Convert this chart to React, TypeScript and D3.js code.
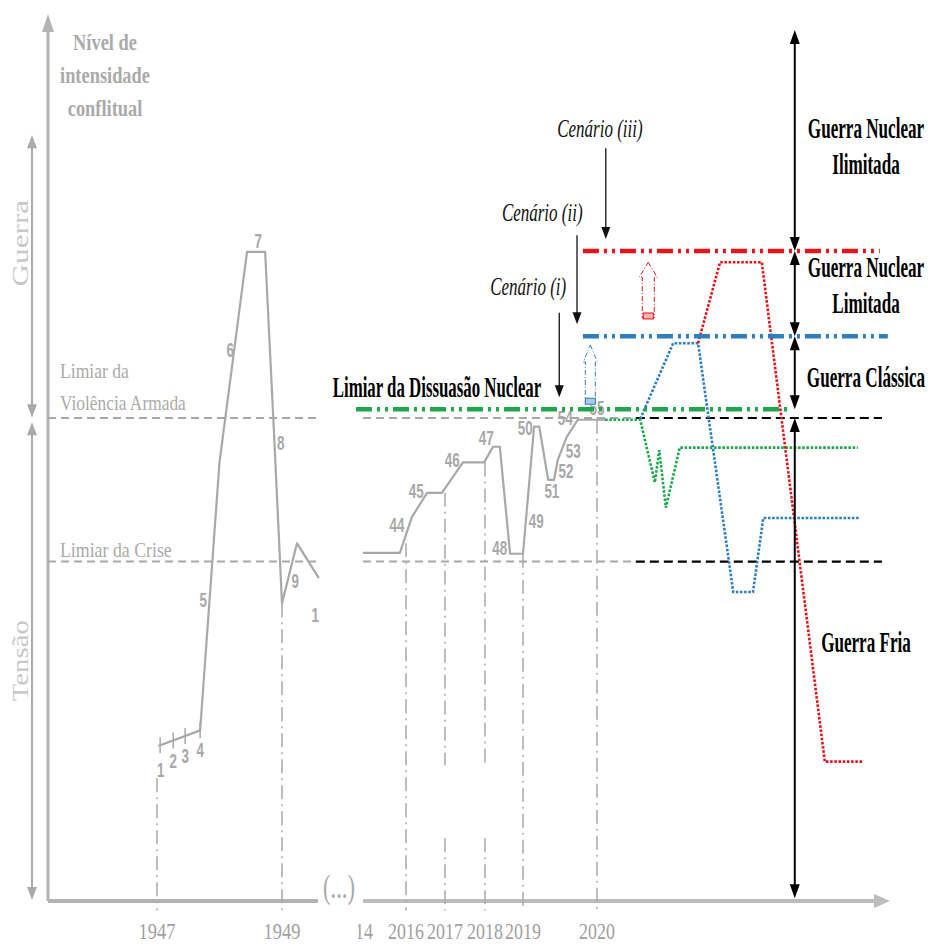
import React from 'react';
import * as d3 from 'd3';

const W = 928;
const H = 946;
const SERIF = '"Liberation Serif", "Times New Roman", serif';
const SANS = '"Liberation Sans", Arial, sans-serif';

// intensity: 0 = time axis, 100 = top of the intensity axis
const thresholdLevels = [38.9, 55.4]; // crise, violência armada
const deterrenceLevel = 56.4;

// 1947-1949 episode
const oldYears = [1947, 1949];
const oldGuideTop = [14.0, 34.1];
const oldT = [1947.02, 1947.69, 1948.0, 1948.44, 1948.73, 1948.87, 1949.0, 1949.24, 1949.59];
const oldV = [17.7, 19.5, 50.3, 74.5, 74.5, 54.0, 34.1, 41.0, 37.0];
const oldTickT = [1947.05, 1947.26, 1947.45, 1947.69];
const oldEventLabels = ['1', '2', '3', '4', '5', '6', '7', '8', '9', '1'];
const oldEventT = [1947.06, 1947.26, 1947.45, 1947.69, 1947.74, 1948.17, 1948.62, 1948.98, 1949.21, 1949.53];
const oldEventV = [14.1, 15.2, 15.7, 16.4, 33.7, 62.4, 74.9, 51.7, 35.9, 32.0];

// 2014-2020
const newYears = [2014, 2016, 2017, 2018, 2019, 2020];
const guideYears = [2016, 2017, 2018, 2019, 2020];
const guideTop = [41.0, 46.8, 50.3, 39.8, 55.2];
const guideBroken = [false, true, true, false, false];
const newT = [2014.31, 2015.76, 2016.15, 2016.54, 2016.92, 2017.45, 2017.98, 2018.21, 2018.39, 2018.66, 2019.0, 2019.15, 2019.22, 2019.34, 2019.42, 2019.47, 2019.59, 2019.74, 2020.14];
const newV = [39.9, 39.9, 44.0, 46.8, 46.8, 50.3, 50.3, 52.1, 52.1, 39.8, 39.8, 54.4, 54.4, 48.3, 48.3, 50.6, 53.2, 55.2, 55.2];
const newEventLabels = ['44', '45', '46', '47', '48', '49', '50', '51', '52', '53', '54', '55'];
const newEventT = [2015.65, 2016.26, 2017.18, 2018.03, 2018.39, 2019.18, 2019.03, 2019.39, 2019.58, 2019.68, 2019.57, 2020.0];
const newEventV = [42.3, 46.2, 49.8, 52.3, 39.7, 42.8, 53.4, 46.2, 48.5, 50.8, 54.6, 55.7];

// scenarios (i) green, (ii) blue, (iii) red
const scenarioLabels = ['Cenário (i)', 'Cenário (ii)', 'Cenário (iii)'];
const scenarioColors = ['#1ea84b', '#2f7ec1', '#e3141b'];
const scenarioLevels = [deterrenceLevel, 64.8, 74.6];
const scenarioStart = [2014.04, 2019.81, 2019.81];
const scenarioEnd = [2022.63, 2023.97, 2023.86];
const scenarioLabelT = [2019.07, 2019.26, 2020.04];
const scenarioLabelV = [69.5, 78.0, 87.7];
const scenarioArrowT = [2019.49, 2019.73, 2020.12];
const scenarioArrowTop = [67.5, 76.4, 86.4];
const pathT = [
  [2020.11, 2020.59, 2020.79, 2020.85, 2020.94, 2021.13, 2023.56],
  [2020.59, 2021.04, 2021.38, 2021.86, 2022.13, 2022.27, 2023.59],
  [2021.38, 2021.68, 2022.25, 2023.11, 2023.62],
];
const pathV = [
  [55.2, 55.2, 48.0, 51.7, 45.1, 52.0, 52.0],
  [55.3, 64.0, 64.0, 35.4, 35.4, 43.9, 43.9],
  [64.0, 73.3, 73.3, 15.9, 15.9],
];
// hollow "escalation" arrows
const hollowT = [2019.91, 2020.7];
const hollowBase = [57.1, 66.9];
const hollowTip = [63.8, 73.3];
const hollowColors = ['#2f7ec1', '#e3141b'];

// regimes on the right-hand ladder
const regimeLines = [['Guerra Nuclear', 'Ilimitada'], ['Guerra Nuclear', 'Limitada'], ['Guerra Clássica'], ['Guerra Fria']];
const regimeTop = [100, 74.6, 64.8, 55.4];
const regimeBottom = [74.6, 64.8, 56.4, 0.2];
const regimeLabelV = [87.6, 71.6, 59.0, 28.5];
const ladderT = 2022.7;

const GREY = '#a8a8a8';

function Txt({ x, y, children, size, k = 1, anchor = 'middle', weight = 'normal', italic = false, fill = '#000', family = SERIF, rotate = 0 }: any) {
  return (
    <text
      transform={`translate(${x},${y}) rotate(${rotate}) scale(${k},1)`}
      textAnchor={anchor}
      fontSize={size}
      fontWeight={weight}
      fontStyle={italic ? 'italic' : 'normal'}
      fill={fill}
      fontFamily={family}
    >
      {children}
    </text>
  );
}

function head(x: number, tipY: number, dir: number, len = 14, hw = 5) {
  return `M${x},${tipY}L${x - hw},${tipY + dir * len}L${x + hw},${tipY + dir * len}Z`;
}

export default function App() {
  const y = d3.scaleLinear().domain([0, 100]).range([900, 30]);
  const xOld = d3.scaleLinear().domain(oldYears).range([157, 282]);
  const xNew = d3.scaleLinear().domain([2014, 2016, 2017, 2018, 2019, 2020, 2024]).range([355, 406, 445, 485, 523, 597, 890]);

  const axisX = 48;
  const axisY = y(0) + 1;
  const breakL = 318;
  const breakR = 363;
  const axisEnd = 890;
  const yAxisX = 32;
  const yearBaseline = 939;

  const line = d3.line<[number, number]>().x(d => d[0]).y(d => d[1]);
  const oldPath = line(oldT.map((t, i) => [xOld(t), y(oldV[i])]));
  const newPath = line(newT.map((t, i) => [xNew(t), y(newV[i])]));

  const blackStart = 2020.53;
  const blackEnd = 2023.89;
  const lx = xNew(ladderT);

  return (
    <div style={{ position: 'absolute', left: 0, top: 0 }}>
      <svg width={W} height={H} style={{ display: 'block', background: '#fff' }}>
        <defs>
          <clipPath id="rightAxisClip">
            <rect x={breakR - 5} y={0} width={W} height={H} />
          </clipPath>
        </defs>

        {/* axes */}
        <line x1={axisX} y1={axisY} x2={axisX} y2={y(100) - 2} stroke="#b3b3b3" strokeWidth={3} />
        <path d={head(axisX, 14, 1, 18, 6)} fill="#b3b3b3" />
        <line x1={axisX} y1={axisY} x2={breakL} y2={axisY} stroke="#b3b3b3" strokeWidth={4} />
        <line x1={breakR} y1={axisY} x2={axisEnd - 12} y2={axisY} stroke="#bcbcbc" strokeWidth={4} />
        <path d={`M${axisEnd},${axisY}L${axisEnd - 16},${axisY - 7}L${axisEnd - 16},${axisY + 7}Z`} fill="#bcbcbc" />
        <Txt x={339} y={898} size={34} k={0.66} fill="#aaa">(...)</Txt>

        {/* Guerra / Tensão arrows */}
        <line x1={yAxisX} y1={y(87.9) + 10} x2={yAxisX} y2={y(55.5) - 10} stroke="#aaa" strokeWidth={2} />
        <path d={head(yAxisX, y(87.9), 1, 13, 5)} fill="#aaa" />
        <path d={head(yAxisX, y(55.5), -1, 13, 5)} fill="#aaa" />
        <line x1={yAxisX} y1={y(54.9) + 10} x2={yAxisX} y2={y(0) - 10} stroke="#aaa" strokeWidth={2} />
        <path d={head(yAxisX, y(54.9), 1, 13, 5)} fill="#aaa" />
        <path d={head(yAxisX, y(0), -1, 13, 5)} fill="#aaa" />
        <Txt x={28} y={y(75.5)} size={24} k={1.3} rotate={-90} fill="#c8c8c8">Guerra</Txt>
        <Txt x={28} y={y(27.5)} size={24} k={1.2} rotate={-90} fill="#c8c8c8">Tensão</Txt>

        {/* axis title */}
        <Txt x={105} y={50} size={23} k={0.8} weight="bold" fill="#aaa">Nível de</Txt>
        <Txt x={105} y={83} size={23} k={0.8} weight="bold" fill="#aaa">intensidade</Txt>
        <Txt x={105} y={116} size={23} k={0.8} weight="bold" fill="#aaa">conflitual</Txt>

        {/* year guides */}
        {oldYears.map((yr, i) => (
          <line key={'og' + yr} x1={xOld(yr)} x2={xOld(yr)} y1={y(oldGuideTop[i])} y2={y(-1.2)} stroke={GREY} strokeWidth={1.5} strokeDasharray="14,5,2,5" />
        ))}
        {guideYears.map((yr, i) =>
          guideBroken[i] ? (
            <g key={'ng' + yr}>
              <line x1={xNew(yr)} x2={xNew(yr)} y1={y(guideTop[i])} y2={y(15.5)} stroke={GREY} strokeWidth={1.5} strokeDasharray="14,5,2,5" />
              <line x1={xNew(yr)} x2={xNew(yr)} y1={y(7.1)} y2={y(-1.2)} stroke={GREY} strokeWidth={1.5} strokeDasharray="14,5,2,5" />
            </g>
          ) : (
            <line key={'ng' + yr} x1={xNew(yr)} x2={xNew(yr)} y1={y(guideTop[i])} y2={y(-1.2)} stroke={GREY} strokeWidth={1.5} strokeDasharray="14,5,2,5" />
          )
        )}

        {/* year labels */}
        {oldYears.map(yr => (
          <Txt key={'oy' + yr} x={xOld(yr)} y={yearBaseline} size={23} k={0.8} fill="#a0a0a0">{String(yr)}</Txt>
        ))}
        <g clipPath="url(#rightAxisClip)">
          {newYears.map(yr => (
            <Txt key={'ny' + yr} x={xNew(yr)} y={yearBaseline} size={23} k={0.78} fill="#a0a0a0">{String(yr)}</Txt>
          ))}
        </g>

        {/* thresholds */}
        {thresholdLevels.map(lv => (
          <g key={'th' + lv}>
            <line x1={axisX} x2={breakL} y1={y(lv)} y2={y(lv)} stroke={GREY} strokeWidth={2} strokeDasharray="8,5" />
            <line x1={breakR} x2={xNew(blackStart)} y1={y(lv)} y2={y(lv)} stroke={GREY} strokeWidth={2} strokeDasharray="8,5" />
            <line x1={xNew(blackStart)} x2={xNew(blackEnd)} y1={y(lv)} y2={y(lv)} stroke="#000" strokeWidth={2.2} strokeDasharray="9,5" />
          </g>
        ))}
        <Txt x={axisX + 12} y={y(thresholdLevels[1]) - 40} size={22} k={0.8} anchor="start" fill="#aaa">Limiar da</Txt>
        <Txt x={axisX + 12} y={y(thresholdLevels[1]) - 8} size={22} k={0.79} anchor="start" fill="#aaa">Violência Armada</Txt>
        <Txt x={axisX + 12} y={y(thresholdLevels[0]) - 5} size={22} k={0.81} anchor="start" fill="#aaa">Limiar da Crise</Txt>

        {/* historical series */}
        <path d={oldPath || ''} fill="none" stroke={GREY} strokeWidth={2.2} strokeLinejoin="round" />
        {oldTickT.map(t => {
          const i = d3.bisectLeft(oldT, t);
          const a = Math.max(0, i - 1);
          const b = Math.min(oldT.length - 1, i);
          const f = oldT[b] === oldT[a] ? 0 : (t - oldT[a]) / (oldT[b] - oldT[a]);
          const v = oldV[a] + f * (oldV[b] - oldV[a]);
          return <line key={'tk' + t} x1={xOld(t)} x2={xOld(t)} y1={y(v) - 8} y2={y(v) + 8} stroke={GREY} strokeWidth={1.5} />;
        })}
        {oldEventLabels.map((lab, i) => (
          <Txt key={'oe' + i} x={xOld(oldEventT[i])} y={y(oldEventV[i])} size={20} k={0.67} weight="bold" family={SANS} fill="#a8a8a8">{lab}</Txt>
        ))}
        <path d={newPath || ''} fill="none" stroke={GREY} strokeWidth={2.2} strokeLinejoin="round" />
        {newEventLabels.map((lab, i) => (
          <Txt key={'ne' + i} x={xNew(newEventT[i])} y={y(newEventV[i])} size={20} k={0.67} weight="bold" family={SANS} fill="#a8a8a8">{lab}</Txt>
        ))}

        {/* scenario paths (dotted) */}
        {pathT.map((ts, s) => (
          <path
            key={'sp' + s}
            d={line(ts.map((t, i) => [xNew(t), y(pathV[s][i])])) || ''}
            fill="none"
            stroke={scenarioColors[s]}
            strokeWidth={2.6}
            strokeDasharray="2.6,1.6"
          />
        ))}

        {/* scenario thresholds (dash-dot-dot) */}
        {scenarioLevels.map((lv, s) => (
          <line
            key={'sl' + s}
            x1={xNew(scenarioStart[s])}
            x2={xNew(scenarioEnd[s])}
            y1={y(lv)}
            y2={y(lv)}
            stroke={scenarioColors[s]}
            strokeWidth={4.5}
            strokeDasharray="16,5,3,5,3,5"
          />
        ))}

        {/* hollow escalation arrows */}
        {hollowT.map((t, i) => {
          const cx = xNew(t);
          const tip = y(hollowTip[i]);
          const base = y(hollowBase[i]);
          const hw = i === 0 ? 7 : 9;
          const sw = i === 0 ? 5 : 6;
          const hl = i === 0 ? 17 : 15;
          const d = `M${cx},${tip}L${cx + hw},${tip + hl}L${cx + sw},${tip + hl}L${cx + sw},${base}L${cx - sw},${base}L${cx - sw},${tip + hl}L${cx - hw},${tip + hl}Z`;
          return (
            <g key={'ha' + i}>
              <path d={d} fill="none" stroke={hollowColors[i]} strokeWidth={1} strokeDasharray="5,2,1,2" />
              <rect x={cx - 5} y={base - 5} width={10} height={6} fill={i === 0 ? '#a9cbea' : '#f5b4b4'} stroke={hollowColors[i]} strokeWidth={1} />
            </g>
          );
        })}

        {/* scenario labels and pointers */}
        {scenarioLabels.map((lab, s) => {
          const ax = xNew(scenarioArrowT[s]);
          const tipY = y(scenarioLevels[s]) - 12;
          return (
            <g key={'sc' + s}>
              <Txt x={xNew(scenarioLabelT[s])} y={y(scenarioLabelV[s])} size={25} k={0.68} italic fill="#111">{lab}</Txt>
              <line x1={ax} x2={ax} y1={y(scenarioArrowTop[s])} y2={tipY - 10} stroke="#111" strokeWidth={1.3} />
              <path d={head(ax, tipY, -1, 12, 4.5)} fill="#111" />
            </g>
          );
        })}
        <Txt x={437} y={397} size={29} k={0.58} weight="bold" fill="#000">Limiar da Dissuasão Nuclear</Txt>

        {/* regime ladder */}
        {regimeTop.map((top, r) => {
          const y1 = y(top);
          const y2 = y(regimeBottom[r]);
          return (
            <g key={'rg' + r}>
              <line x1={lx} x2={lx} y1={y1 + 8} y2={y2 - 8} stroke="#000" strokeWidth={2} />
              <path d={head(lx, y1, 1, 14, 5)} fill="#000" />
              <path d={head(lx, y2, -1, 14, 5)} fill="#000" />
              {regimeLines[r].map((ln, j) => (
                <Txt key={ln + j} x={866} y={y(regimeLabelV[r]) + j * 36} size={29} k={0.59} weight="bold" fill="#000">{ln}</Txt>
              ))}
            </g>
          );
        })}
      </svg>
    </div>
  );
}
